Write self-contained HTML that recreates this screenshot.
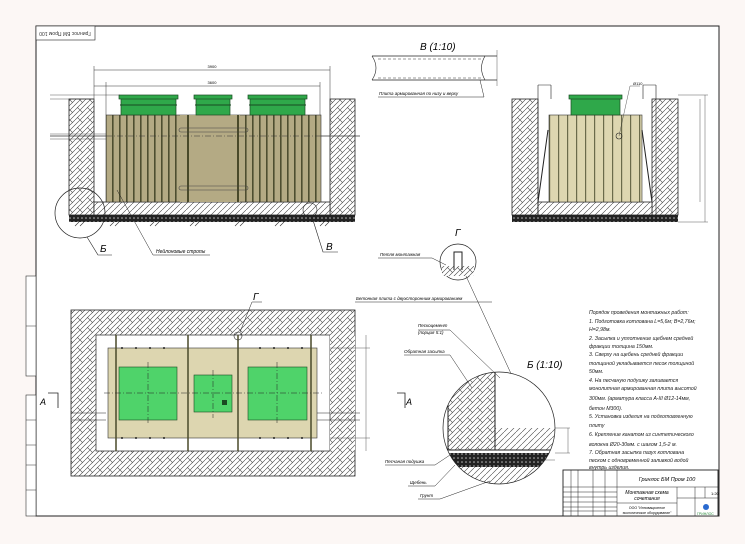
<!DOCTYPE html>
<html><head><meta charset="utf-8"><style>
html,body{margin:0;padding:0;background:#fcf7f5;}
svg{display:block;font-family:"Liberation Sans","DejaVu Sans",sans-serif;}
</style></head><body>
<svg width="745" height="544" viewBox="0 0 745 544" xmlns="http://www.w3.org/2000/svg">
<defs>
<pattern id="hb" width="10" height="10" patternUnits="userSpaceOnUse">
<rect width="10" height="10" fill="#fff"/>
<path d="M0 5L5 0M5 10L10 5M0 10L5 5M5 5L10 0M0 0L2.5 2.5M7.5 7.5L10 10" stroke="#444" stroke-width="0.55" fill="none"/>
</pattern>
<pattern id="dg" width="6" height="6" patternUnits="userSpaceOnUse">
<rect width="6" height="6" fill="#fff"/>
<path d="M0 6L6 0" stroke="#444" stroke-width="0.6"/>
</pattern>
<pattern id="gr" width="4" height="4" patternUnits="userSpaceOnUse">
<rect width="4" height="4" fill="#222"/>
<circle cx="2" cy="2" r="0.8" fill="#bbb"/>
</pattern>
<pattern id="tk" width="7" height="10" patternUnits="userSpaceOnUse">
<rect width="7" height="10" fill="#b4aa84"/>
<rect x="0" width="1.6" height="10" fill="#4e4e30"/>
</pattern>
<pattern id="tk2" width="9" height="10" patternUnits="userSpaceOnUse">
<rect width="9" height="10" fill="#ddd6b0"/>
<rect x="0" width="1.2" height="10" fill="#6a6a4a"/>
</pattern>
</defs>
<rect x="36" y="26" width="683" height="490" fill="#fff" stroke="#222" stroke-width="1"/>
<rect x="36" y="26" width="59" height="14" fill="#fff" stroke="#222" stroke-width="0.6"/>
<text x="65" y="36" font-size="5" text-anchor="middle" transform="rotate(180 65 34)" fill="#333">Гринлос БМ Пром 100</text>
<rect x="26" y="276" width="10" height="100" fill="#fff" stroke="#333" stroke-width="0.6"/>
<rect x="26" y="395" width="10" height="121" fill="#fff" stroke="#333" stroke-width="0.6"/>
<path d="M26 326H36M26 420H36M26 445H36M26 465H36M26 490H36" stroke="#333" stroke-width="0.5"/>

<!-- TOP LEFT SECTION -->
<rect x="69" y="99" width="25" height="116" fill="url(#hb)" stroke="#222" stroke-width="0.8"/>
<rect x="330" y="99" width="25" height="116" fill="url(#hb)" stroke="#222" stroke-width="0.8"/>
<rect x="94" y="202" width="236" height="13" fill="url(#dg)" stroke="#222" stroke-width="0.8"/>
<rect x="69" y="215" width="286" height="7" fill="url(#gr)"/>
<path d="M75 226l4-4M80 226l4-4M110 226l4-4M115 226l4-4M150 226l4-4M155 226l4-4M190 226l4-4M195 226l4-4M235 226l4-4M240 226l4-4M275 226l4-4M280 226l4-4M320 226l4-4M325 226l4-4" stroke="#333" stroke-width="0.6"/>
<rect x="106" y="115" width="215" height="87" fill="url(#tk)" stroke="#333" stroke-width="0.6"/>
<rect x="180" y="115" width="60" height="87" fill="#b4aa84"/>
<path d="M188 115V202M238 115V202" stroke="#4a4a2a" stroke-width="2"/>
<rect x="179" y="128" width="69" height="4" rx="2" fill="none" stroke="#444" stroke-width="0.6"/>
<rect x="179" y="186" width="69" height="4" rx="2" fill="none" stroke="#444" stroke-width="0.6"/>
<g fill="#2fa84a" stroke="#1a4a22" stroke-width="0.7">
<rect x="121" y="98" width="55" height="17"/><rect x="119" y="95" width="59" height="4"/>
<rect x="196" y="98" width="34" height="17"/><rect x="194" y="95" width="38" height="4"/>
<rect x="250" y="98" width="55" height="17"/><rect x="248" y="95" width="59" height="4"/>
</g>
<path d="M120 105H177M195 105H231M249 105H306" stroke="#1a4a22" stroke-width="1"/>
<path d="M50 136H106M321 136H360" stroke="#333" stroke-width="0.7"/>
<path d="M106 136H321" stroke="#333" stroke-width="0.5" stroke-dasharray="6 2 1 2"/>
<path d="M94 70H330M94 86H320M94 66V99M330 66V99M106 82V115M320 82V115" stroke="#333" stroke-width="0.5"/>
<text x="212" y="68" font-size="4" text-anchor="middle">3900</text>
<text x="212" y="84" font-size="4" text-anchor="middle">3600</text>
<path d="M50 95H120M50 99H94M50 134H106M50 139H106" stroke="#333" stroke-width="0.4"/>
<circle cx="80" cy="213" r="25" fill="none" stroke="#222" stroke-width="0.7"/>
<path d="M87 237L98 255H112" fill="none" stroke="#222" stroke-width="0.6"/>
<text x="100" y="252" font-size="10" font-style="italic">Б</text>
<circle cx="310" cy="210" r="7" fill="none" stroke="#222" stroke-width="0.6"/>
<path d="M312 217L323 252H338" fill="none" stroke="#222" stroke-width="0.6"/>
<text x="326" y="250" font-size="10" font-style="italic">В</text>
<path d="M117 190L153 255H210" fill="none" stroke="#222" stroke-width="0.5"/>
<text x="156" y="253" font-size="5" font-style="italic">Нейлоновые стропы</text>

<!-- В (1:10) -->
<text x="420" y="50" font-size="10" font-style="italic">В (1:10)</text>
<path d="M372 56H497M372 80H497" stroke="#222" stroke-width="0.8"/>
<path d="M378 59H482M378 78H482" stroke="#333" stroke-width="0.5" stroke-dasharray="3 2"/>
<path d="M372 56Q380 68 372 80M485 56Q478 68 485 80" fill="none" stroke="#222" stroke-width="0.6"/>
<path d="M497 50V86" stroke="#333" stroke-width="0.4"/>
<path d="M378 97H484L480 80" fill="none" stroke="#222" stroke-width="0.5"/>
<text x="379" y="95" font-size="4.5" font-style="italic">Плита армированная по низу и верху</text>

<!-- Right section -->
<rect x="512" y="99" width="26" height="116" fill="url(#hb)" stroke="#222" stroke-width="0.8"/>
<rect x="652" y="99" width="26" height="116" fill="url(#hb)" stroke="#222" stroke-width="0.8"/>
<rect x="538" y="202" width="114" height="13" fill="url(#dg)" stroke="#222" stroke-width="0.8"/>
<rect x="512" y="215" width="166" height="7" fill="url(#gr)"/>
<rect x="549" y="115" width="93" height="87" fill="url(#tk2)" stroke="#333" stroke-width="0.6"/>
<path d="M538 85V215M551 85V99M643 85V99M656 85V215M538 85H551M643 85H656" fill="none" stroke="#222" stroke-width="0.6"/>
<path d="M538 202L548 130M652 202L642 130" stroke="#222" stroke-width="1"/>
<rect x="571" y="98" width="49" height="17" fill="#2fa84a" stroke="#1a4a22" stroke-width="0.7"/>
<rect x="569" y="95" width="53" height="4" fill="#2fa84a" stroke="#1a4a22" stroke-width="0.7"/>
<circle cx="619" cy="136" r="3" fill="none" stroke="#222" stroke-width="0.6"/>
<path d="M619 136L630 86H640M678 95H708M678 222H708M705 95V222M700 99V202" stroke="#333" stroke-width="0.4" fill="none"/>
<text x="633" y="85" font-size="4">Ø110</text>

<!-- Г -->
<text x="455" y="236" font-size="10" font-style="italic">Г</text>
<circle cx="458" cy="262" r="18" fill="#fff" stroke="#222" stroke-width="0.7"/>
<rect x="442" y="266" width="32" height="10" fill="url(#hb)"/>
<path d="M454 270V252h8V270" fill="none" stroke="#222" stroke-width="1"/>
<path d="M378 258H432L446 265" fill="none" stroke="#222" stroke-width="0.5"/>
<text x="380" y="256" font-size="4.5" font-style="italic">Петля монтажная</text>
<path d="M466 276L537 430" stroke="#222" stroke-width="0.5"/>

<!-- Plan view -->
<rect x="71" y="310" width="284" height="166" fill="url(#hb)" stroke="#222" stroke-width="0.8"/>
<rect x="96" y="335" width="234" height="116" fill="#fff" stroke="#222" stroke-width="0.7"/>
<rect x="330" y="335" width="25" height="80" fill="url(#hb)"/>
<rect x="330" y="420" width="25" height="31" fill="url(#hb)"/>
<path d="M71 413H106M71 420H106M317 413H360M317 420H360" stroke="#222" stroke-width="0.6"/>
<rect x="108" y="348" width="209" height="90" fill="#ddd6b0" stroke="#333" stroke-width="0.6"/>
<path d="M116 335V451M188 335V451M238 335V451M311 335V451" stroke="#4a4a2a" stroke-width="1.5"/>
<g fill="#4fd36a" stroke="#1a4a22" stroke-width="0.6">
<rect x="119" y="367" width="58" height="53"/><rect x="194" y="375" width="38" height="37"/><rect x="248" y="367" width="59" height="53"/>
</g>
<rect x="222" y="400" width="5" height="5" fill="#1a4a22"/>
<path d="M104 393H322" stroke="#222" stroke-width="0.6" stroke-dasharray="6 2 1 2"/>
<path d="M148 362V425M213 370V418M277 362V425" stroke="#222" stroke-width="0.5" stroke-dasharray="6 2 1 2"/>
<g fill="#222"><circle cx="122" cy="348" r="1"/><circle cx="136" cy="348" r="1"/><circle cx="150" cy="348" r="1"/><circle cx="164" cy="348" r="1"/><circle cx="260" cy="348" r="1"/><circle cx="274" cy="348" r="1"/><circle cx="288" cy="348" r="1"/><circle cx="302" cy="348" r="1"/><circle cx="122" cy="438" r="1"/><circle cx="136" cy="438" r="1"/><circle cx="150" cy="438" r="1"/><circle cx="164" cy="438" r="1"/><circle cx="260" cy="438" r="1"/><circle cx="274" cy="438" r="1"/><circle cx="288" cy="438" r="1"/><circle cx="302" cy="438" r="1"/></g>
<circle cx="238" cy="336" r="4" fill="none" stroke="#222" stroke-width="0.6"/>
<path d="M240 332L252 302H262" fill="none" stroke="#222" stroke-width="0.5"/>
<text x="253" y="300" font-size="10" font-style="italic">Г</text>
<path d="M330 348H370M330 438H370M366 335V451" stroke="#333" stroke-width="0.4"/>
<path d="M48 393H58V408" fill="none" stroke="#222" stroke-width="0.8"/>
<text x="40" y="405" font-size="9" font-style="italic">А</text>
<path d="M397 393H405V408" fill="none" stroke="#222" stroke-width="0.8"/>
<text x="406" y="405" font-size="9" font-style="italic">А</text>

<path d="M355 302H492" stroke="#222" stroke-width="0.5"/>
<text x="356" y="300" font-size="4.5" font-style="italic">Бетонная плита с двухсторонним армированием</text>

<!-- Б (1:10) -->
<text x="527" y="368" font-size="10" font-style="italic">Б (1:10)</text>
<clipPath id="cb"><circle cx="499" cy="428" r="56"/></clipPath>
<g clip-path="url(#cb)">
<rect x="440" y="370" width="120" height="120" fill="#fff"/>
<rect x="448" y="368" width="47" height="82" fill="url(#hb)"/>
<rect x="495" y="428" width="65" height="22" fill="url(#dg)"/>
<rect x="440" y="453" width="120" height="14" fill="url(#gr)"/>
<rect x="440" y="467" width="120" height="25" fill="url(#dg)"/>
<path d="M448 396V450M495 368V450M440 450H560" stroke="#222" stroke-width="1"/>
</g>
<circle cx="499" cy="428" r="56" fill="none" stroke="#222" stroke-width="0.7"/>
<path d="M555 428H570M555 453H570M568 428V453M520 460H555" stroke="#333" stroke-width="0.4"/>
<path d="M418 330H450L500 378" fill="none" stroke="#222" stroke-width="0.5"/>
<text x="418" y="327" font-size="4.5" font-style="italic">Пескоцемент</text>
<text x="418" y="334" font-size="4.5" font-style="italic">(порция 5:1)</text>
<path d="M404 355H450L472 388" fill="none" stroke="#222" stroke-width="0.5"/>
<text x="404" y="353" font-size="4.5" font-style="italic">Обратная засыпка</text>
<path d="M385 465H435L450 455" fill="none" stroke="#222" stroke-width="0.5"/>
<text x="385" y="463" font-size="4.5" font-style="italic">Песчаная подушка</text>
<path d="M408 486H435L455 465" fill="none" stroke="#222" stroke-width="0.5"/>
<text x="410" y="484" font-size="4.5" font-style="italic">Щебень</text>
<path d="M418 499H440L490 481" fill="none" stroke="#222" stroke-width="0.5"/>
<text x="420" y="497" font-size="4.5" font-style="italic">Грунт</text>

<!-- Notes -->
<g font-size="5.2" font-style="italic" fill="#222">
<text x="589" y="314">Порядок проведения монтажных работ:</text>
<text x="589" y="323">1. Подготовка котлована L=5,6м; B=2,76м;</text>
<text x="589" y="331">H=2,98м.</text>
<text x="589" y="340">2. Засыпка и уплотнение щебнем средней</text>
<text x="589" y="348">фракции толщина 150мм.</text>
<text x="589" y="356">3. Сверху на щебень средней фракции</text>
<text x="589" y="365">толщиной укладывается песок толщиной</text>
<text x="589" y="373">50мм.</text>
<text x="589" y="382">4. На песчаную подушку заливается</text>
<text x="589" y="390">монолитная армированная плита высотой</text>
<text x="589" y="400">300мм. (арматура класса А-III Ø12-14мм,</text>
<text x="589" y="410">бетон М300).</text>
<text x="589" y="418">5. Установка изделия на подготовленную</text>
<text x="589" y="427">плиту</text>
<text x="589" y="436">6. Крепление канатом из синтетического</text>
<text x="589" y="446">волокна Ø20-30мм. с шагом 1,5-2 м.</text>
<text x="589" y="454">7. Обратная засыпка пазух котлована</text>
<text x="589" y="462">песком с одновременной заливкой водой</text>
<text x="589" y="469">внутрь изделия.</text>
</g>

<!-- Title block -->
<rect x="563" y="470" width="155" height="46" fill="#fff" stroke="#222" stroke-width="0.9"/>
<path d="M617 470V516M617 487H718M617 503H677M677 487V516M695 487V516M563 487H617M563 492H617M563 497H617M563 502H617M563 507H617M563 511H617M571 470V516M578 470V516M593 470V516M605 470V516M677 498H718M705 487V498" stroke="#222" stroke-width="0.5"/>
<text x="667" y="481" font-size="5.5" font-style="italic" text-anchor="middle">Гринлос БМ Пром 100</text>
<text x="647" y="494" font-size="5" font-style="italic" text-anchor="middle">Монтажная схема</text>
<text x="647" y="500" font-size="5" font-style="italic" text-anchor="middle">сочетания</text>
<text x="647" y="509" font-size="3.5" text-anchor="middle">ООО "Инновационное</text>
<text x="647" y="514" font-size="3.5" text-anchor="middle">экологическое оборудование"</text>
<text x="711" y="495" font-size="4">1:20</text>
<circle cx="706" cy="507" r="3" fill="#2a6ad0"/>
<text x="697" y="515" font-size="3.5" fill="#2a8a3a">ГРИНЛОС</text>
</svg>
</body></html>
